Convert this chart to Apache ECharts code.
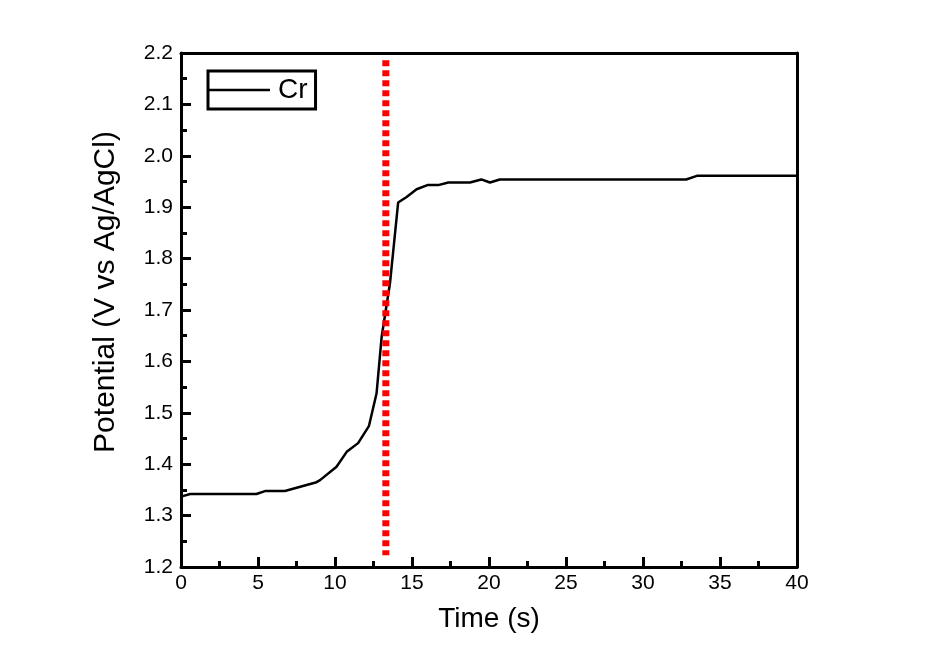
<!DOCTYPE html>
<html>
<head>
<meta charset="utf-8">
<script src="https://cdn.jsdelivr.net/npm/echarts@6/dist/echarts.min.js"></script>
<style>
html,body{margin:0;padding:0;background:#fff;}
#chart{width:937px;height:672px;}
</style>
</head>
<body>
<div id="chart"></div>
<script>
// Data
var timeValues = [0, 0.6, 4.9, 5.5, 6.75, 8.8, 9.03, 10.1, 10.76, 11.5, 12.2, 12.7, 13.03, 13.3, 13.57, 14.1, 14.65, 15.3, 16.0, 16.7, 17.36, 18.76, 19.5, 20.06, 20.7, 32.8, 33.5, 40];
var potentialValues = [1.337, 1.342, 1.342, 1.348, 1.348, 1.365, 1.369, 1.395, 1.424, 1.441, 1.474, 1.538, 1.648, 1.70, 1.752, 1.909, 1.920, 1.935, 1.943, 1.943, 1.948, 1.948, 1.954, 1.948, 1.954, 1.954, 1.961, 1.961];
var markerTime = [13.3, 13.3];
var markerPotential = [2.186, 1.223];
var seriesName = 'Cr';
var xTitle = 'Time (s)';
var yTitle = 'Potential (V vs Ag/AgCl)';

var FONT = '"Liberation Sans", Arial, sans-serif';
var chart = echarts.init(document.getElementById('chart'), null, {renderer: 'canvas'});

var curve = timeValues.map(function (t, i) { return [t, potentialValues[i]]; });
var marker = markerTime.map(function (t, i) { return [t, markerPotential[i]]; });

var spine = {show: true, onZero: false, lineStyle: {color: '#000', width: 3}};
var tick = {show: true, inside: true, length: 10, lineStyle: {color: '#000', width: 3}};
var minor = {show: true, splitNumber: 2, length: 6, lineStyle: {color: '#000', width: 3}};

chart.setOption({
  backgroundColor: '#fff',
  animation: false,
  grid: {left: 181, right: 140, top: 53, bottom: 105},
  legend: {
    data: [{name: seriesName, icon: 'rect'}],
    left: 208, top: 71,
    orient: 'horizontal',
    borderColor: '#000', borderWidth: 3,
    padding: [5, 8, 5, 1],
    itemWidth: 61, itemHeight: 2.5,
    itemStyle: {color: '#000'},
    textStyle: {fontFamily: FONT, fontSize: 28, color: '#000', padding: [0, 0, 0, 3]}
  },
  xAxis: [{
    type: 'value', min: 0, max: 40, interval: 5,
    name: xTitle, nameLocation: 'middle', nameGap: 38,
    nameTextStyle: {fontFamily: FONT, fontSize: 28, color: '#000'},
    axisLine: spine, axisTick: tick, minorTick: minor,
    axisLabel: {fontFamily: FONT, fontSize: 21, color: '#000', margin: 6},
    splitLine: {show: false}
  }, {
    type: 'value', min: 0, max: 40, position: 'top',
    axisLine: spine, axisTick: {show: false}, axisLabel: {show: false}, splitLine: {show: false}
  }],
  yAxis: [{
    type: 'value', min: 1.2, max: 2.2, interval: 0.1,
    axisLine: spine, axisTick: tick, minorTick: minor,
    axisLabel: {fontFamily: FONT, fontSize: 21, color: '#000', margin: 8, formatter: function (v) { return v.toFixed(1); }},
    splitLine: {show: false}
  }, {
    type: 'value', min: 1.2, max: 2.2, position: 'right',
    axisLine: spine, axisTick: {show: false}, axisLabel: {show: false}, splitLine: {show: false}
  }],
  graphic: [{
    type: 'text', x: 106, y: 292, rotation: Math.PI / 2, z: 10,
    style: {text: yTitle, fontFamily: FONT, fontSize: 30, fill: '#000', textAlign: 'center', textVerticalAlign: 'middle'}
  }],
  series: [{
    name: seriesName, type: 'line', data: curve, showSymbol: false, symbol: 'none', z: 2,
    lineStyle: {color: '#000', width: 2.5}, itemStyle: {color: '#000'}
  }, {
    name: 'marker', type: 'line', data: marker, showSymbol: false, symbol: 'none', z: 3,
    lineStyle: {color: '#ff0000', width: 7, type: [6, 4], cap: 'butt'}, itemStyle: {color: '#ff0000'}
  }]
});
</script>
</body>
</html>
